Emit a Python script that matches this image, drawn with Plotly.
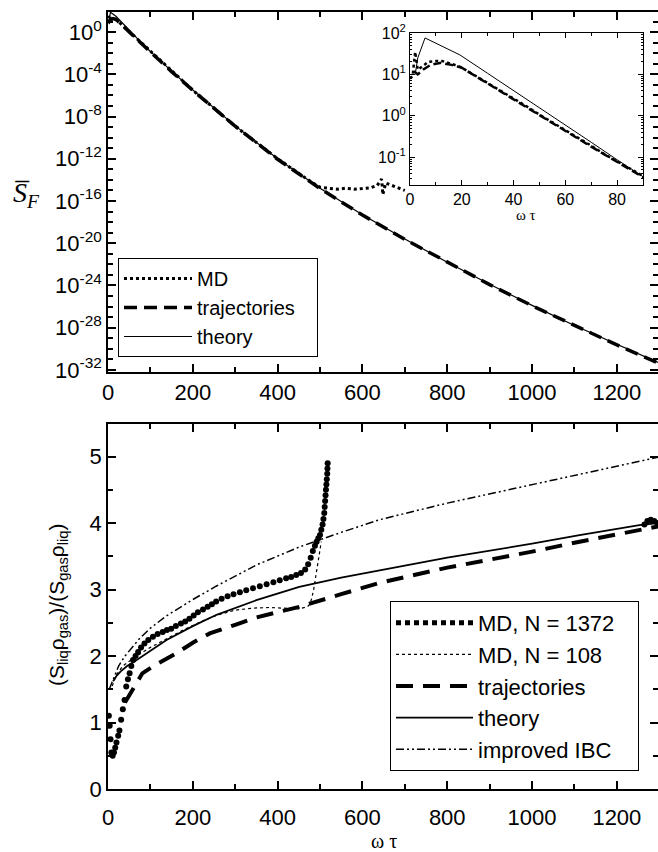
import plotly.graph_objects as go

W, H = 658, 852

# ---------------- top panel data (omega*tau, S_F) ----------------
theory_top_w = [2, 3, 5.8, 10, 15, 19.3, 30, 40, 50, 60, 70, 80, 90, 150, 200, 300, 400, 500,
                600, 700, 800, 900, 1000, 1100, 1200, 1297]
theory_top = [10, 25, 76, 56, 40, 29.5, 10.6, 4.1, 1.55, 0.6, 0.23, 0.087, 0.034, 2e-4, 3.2e-6,
              1.3e-9, 1e-12, 1.6e-15, 5e-18, 2.5e-20, 1.6e-22, 1.3e-24, 1.3e-26, 1.6e-28, 2.5e-30,
              5e-32]

traj_top_w = [1.5, 3, 5, 8, 12, 16, 20, 25, 30, 35, 40, 45, 50, 55, 60, 65, 70, 75, 80, 85, 90,
              150, 200, 300, 400, 500, 600, 700, 800, 900, 1000, 1100, 1200, 1297]
traj_top = [12, 10, 13, 17, 19, 17, 14.5, 9.5, 6, 3.9, 2.5, 1.6, 1.02, 0.66, 0.43, 0.28, 0.18, 0.115,
            0.074, 0.048, 0.031, 1.8e-4, 3e-6, 1.2e-9, 9e-13, 1.5e-15, 4.6e-18, 2.3e-20, 1.5e-22,
            1.2e-24, 1.2e-26, 1.5e-28, 2.3e-30, 4.5e-32]

md_top_w = [0, 1, 2, 3, 5, 7, 10, 12.4, 16, 19.6, 25, 30, 35, 40, 45, 50, 55, 60, 65, 70, 75, 80,
            85, 90, 150, 200, 300, 400, 480, 500, 520, 540, 560, 580, 600, 620, 635, 643, 645, 646,
            647, 648, 655, 670, 690, 700]
md_top = [8, 9, 35, 13, 16, 20, 21, 21, 18, 15, 9.5, 6.2, 4, 2.6, 1.7, 1.07, 0.7, 0.45, 0.29, 0.19,
          0.12, 0.078, 0.05, 0.032, 1.9e-4, 3.1e-6, 1.2e-9, 1e-12, 6e-15, 2e-15, 1.6e-15, 1.3e-15,
          1.6e-15, 1.3e-15, 1.5e-15, 1.8e-15, 3e-15, 8e-15, 1.2e-14, 5e-15, 1e-15, 4e-16, 5e-15,
          3e-15, 1.5e-15, 1e-15]

top_ytick_exp = [0, -4, -8, -12, -16, -20, -24, -28, -32]
inset_ytick_exp = [-1, 0, 1, 2]
x_ticks = [0, 200, 400, 600, 800, 1000, 1200]
inset_x_ticks = [0, 20, 40, 60, 80]

# ---------------- bottom panel data (omega*tau, ratio) ----------------
md1372_w = [2, 4, 6, 8, 11, 14, 17, 20, 24, 27, 31, 35, 39, 43, 47, 51, 55, 59, 65, 71, 78, 86, 95, 106,
            117, 129, 139, 149, 160, 172, 182, 192, 202, 212, 224, 235, 245, 255, 268, 282, 296, 311,
            326, 342, 358, 374, 390, 405, 420, 432, 444, 455, 465, 472, 478, 483, 488, 492, 496, 500,
            503, 506, 508, 510, 511, 512, 513, 514, 515, 516, 517, 517.5, 518,
            1265, 1272, 1280, 1288, 1295]
md1372 = [1.1, 0.95, 0.75, 0.55, 0.5, 0.55, 0.62, 0.7, 0.8, 0.88, 1.04, 1.2, 1.34, 1.54, 1.65, 1.74,
          1.85, 1.94, 2.0, 2.06, 2.13, 2.19, 2.24, 2.29, 2.33, 2.36, 2.39, 2.41, 2.45, 2.49, 2.52, 2.56,
          2.61, 2.66, 2.70, 2.74, 2.78, 2.82, 2.86, 2.9, 2.93, 2.96, 2.99, 3.02, 3.05, 3.08, 3.11, 3.14,
          3.17, 3.19, 3.22, 3.25, 3.3, 3.38, 3.48, 3.58, 3.66, 3.72, 3.77, 3.82, 3.9, 3.98, 4.06, 4.15,
          4.24, 4.33, 4.42, 4.5, 4.58, 4.66, 4.74, 4.82, 4.9,
          3.98, 4.03, 4.05, 4.03, 4.0]

md108_w = [10, 20, 35, 60, 100, 140, 180, 220, 260, 300, 340, 380, 420, 450, 470, 476, 480, 485, 490,
           495, 500, 503]
md108 = [1.55, 1.72, 1.85, 1.97, 2.13, 2.27, 2.4, 2.52, 2.62, 2.69, 2.72, 2.73, 2.72, 2.71, 2.74, 2.78,
         2.86, 3.0, 3.2, 3.4, 3.6, 3.72]

traj_w = [40, 58, 81, 110, 161, 200, 240, 300, 350, 400, 451, 550, 640, 800, 1000, 1112, 1223, 1297]
traj = [1.3, 1.49, 1.74, 1.86, 2.04, 2.2, 2.34, 2.47, 2.58, 2.66, 2.74, 2.93, 3.10, 3.33, 3.57, 3.72,
        3.86, 3.95]

theory_w = [12, 20, 30, 45, 58, 80, 100, 138, 200, 256, 350, 451, 550, 640, 800, 1000, 1112, 1253, 1297]
theory = [1.62, 1.7, 1.77, 1.85, 1.9, 1.99, 2.08, 2.24, 2.45, 2.62, 2.84, 3.04, 3.18, 3.29, 3.48, 3.69,
          3.82, 3.97, 4.0]

ibc_w = [3, 8, 15, 25, 40, 55, 74, 100, 137, 200, 255, 350, 451, 550, 640, 800, 1000, 1112, 1297]
ibc = [1.5, 1.58, 1.7, 1.85, 2.0, 2.12, 2.26, 2.42, 2.6, 2.85, 3.05, 3.37, 3.64, 3.86, 4.05, 4.3, 4.58,
       4.73, 4.99]

bottom_y_ticks = [0, 1, 2, 3, 4, 5]

SANS = "Liberation Sans, Arial, sans-serif"
SERIF = "Liberation Serif, Times New Roman, serif"
PAD = "\u00a0\u00a0\u00a0"  # trailing space inside the legend boxes


def px_x(p):
    return p / W


def px_y(p):
    return 1 - p / H


fig = go.Figure()

traj_dash = "13px,7px"
ibc_dash = "8px,3px,2px,3px,2px,3px"

# top panel traces
fig.add_trace(go.Scatter(x=md_top_w, y=md_top, mode="lines", name="MD",
                         line=dict(color="black", width=3, dash="dot"),
                         xaxis="x", yaxis="y", legend="legend"))
fig.add_trace(go.Scatter(x=traj_top_w, y=traj_top, mode="lines", name="trajectories" + PAD,
                         line=dict(color="black", width=3.5, dash=traj_dash),
                         xaxis="x", yaxis="y", legend="legend"))
fig.add_trace(go.Scatter(x=theory_top_w, y=theory_top, mode="lines", name="theory",
                         line=dict(color="black", width=1.2),
                         xaxis="x", yaxis="y", legend="legend"))

# inset traces (same series, zoomed)
fig.add_trace(go.Scatter(x=md_top_w, y=md_top, mode="lines", showlegend=False,
                         line=dict(color="black", width=2.5, dash="dot"), xaxis="x3", yaxis="y3"))
fig.add_trace(go.Scatter(x=traj_top_w, y=traj_top, mode="lines", showlegend=False,
                         line=dict(color="black", width=2.5, dash="8px,4px"), xaxis="x3", yaxis="y3"))
fig.add_trace(go.Scatter(x=theory_top_w, y=theory_top, mode="lines", showlegend=False,
                         line=dict(color="black", width=1), xaxis="x3", yaxis="y3"))

# bottom panel traces
fig.add_trace(go.Scatter(x=md1372_w, y=md1372, mode="markers", showlegend=False,
                         marker=dict(color="black", size=6),
                         xaxis="x2", yaxis="y2"))
fig.add_trace(go.Scatter(x=[None], y=[None], mode="lines", name="MD, N = 1372" + PAD,
                         line=dict(color="black", width=5, dash="5px,4px"),
                         xaxis="x2", yaxis="y2", legend="legend2"))
fig.add_trace(go.Scatter(x=md108_w, y=md108, mode="lines", name="MD, N = 108",
                         line=dict(color="black", width=1.2, dash="dot"),
                         xaxis="x2", yaxis="y2", legend="legend2"))
fig.add_trace(go.Scatter(x=traj_w, y=traj, mode="lines", name="trajectories",
                         line=dict(color="black", width=4, dash="17px,10px"),
                         xaxis="x2", yaxis="y2", legend="legend2"))
fig.add_trace(go.Scatter(x=theory_w, y=theory, mode="lines", name="theory",
                         line=dict(color="black", width=1.8),
                         xaxis="x2", yaxis="y2", legend="legend2"))
fig.add_trace(go.Scatter(x=ibc_w, y=ibc, mode="lines", name="improved IBC",
                         line=dict(color="black", width=1.5, dash=ibc_dash),
                         xaxis="x2", yaxis="y2", legend="legend2"))

axis_common = dict(showline=True, linecolor="black", linewidth=1.5, mirror="ticks",
                   ticks="inside", tickcolor="black", tickwidth=1.5, showgrid=False,
                   zeroline=False, automargin=False,
                   tickfont=dict(family=SANS, size=22, color="black"))
inset_common = dict(showline=True, linecolor="black", linewidth=1, mirror="ticks",
                    ticks="inside", tickcolor="black", tickwidth=1, showgrid=False,
                    zeroline=False, automargin=False,
                    tickfont=dict(family=SANS, size=16, color="black"))

x_dom = [px_x(108), 1.0]

fig.update_layout(
    template="none",
    width=W, height=H, margin=dict(l=0, r=0, t=0, b=0, pad=0), autosize=False,
    paper_bgcolor="white", plot_bgcolor="white",
    font=dict(family=SANS, color="black"),
    xaxis=dict(domain=x_dom, range=[0, 1297], anchor="y", tickvals=x_ticks, ticklen=8,
               minor=dict(dtick=100, tick0=0, ticks="inside", ticklen=5, tickcolor="black",
                          tickwidth=1.5),
               **axis_common),
    yaxis=dict(domain=[px_y(372), px_y(12)], type="log", range=[-32.2, 1.9], anchor="x",
               tickvals=[10.0 ** e for e in top_ytick_exp],
               ticktext=["10<sup>%d</sup>" % e for e in top_ytick_exp], ticklen=8,
               minor=dict(tickvals=[10.0 ** e for e in range(-32, 2)], ticks="inside", ticklen=5,
                          tickcolor="black", tickwidth=1.5),
               **axis_common),
    xaxis2=dict(domain=x_dom, range=[0, 1297], anchor="y2", tickvals=x_ticks, ticklen=8,
                ticklabelstandoff=8,
                minor=dict(dtick=100, tick0=0, ticks="inside", ticklen=5, tickcolor="black",
                           tickwidth=1.5),
                **axis_common),
    yaxis2=dict(domain=[px_y(789), px_y(424)], range=[0, 5.49], anchor="x2",
                tickvals=bottom_y_ticks, ticklen=8,
                minor=dict(dtick=0.5, tick0=0, ticks="inside", ticklen=5, tickcolor="black",
                           tickwidth=1.5),
                **axis_common),
    xaxis3=dict(domain=[px_x(410), px_x(643)], range=[0, 90], anchor="y3", tickvals=inset_x_ticks,
                ticklen=5,
                minor=dict(dtick=10, tick0=0, ticks="inside", ticklen=3, tickcolor="black"),
                **inset_common),
    yaxis3=dict(domain=[px_y(185), px_y(33)], type="log", range=[-1.67, 2], anchor="x3",
                tickvals=[10.0 ** e for e in inset_ytick_exp],
                ticktext=["10<sup>%d</sup>" % e for e in inset_ytick_exp], ticklen=5,
                minor=dict(tickvals=[m * 10.0 ** e for e in range(-2, 2) for m in range(2, 10)],
                           ticks="inside", ticklen=2, tickcolor="black"),
                **inset_common),
    legend=dict(x=px_x(118), y=px_y(258), xanchor="left", yanchor="top", bgcolor="white",
                bordercolor="black", borderwidth=1, font=dict(family=SANS, size=20, color="black"),
                itemwidth=68, tracegroupgap=0),
    legend2=dict(x=px_x(390), y=px_y(601), xanchor="left", yanchor="top", bgcolor="white",
                 bordercolor="black", borderwidth=1, font=dict(family=SANS, size=22, color="black"),
                 itemwidth=77, tracegroupgap=0),
    annotations=[
        dict(text="<i>S\u0305</i><sub><i>F</i></sub>", x=px_x(26), y=px_y(194), xref="paper",
             yref="paper", xanchor="center", yanchor="middle", showarrow=False,
             font=dict(family=SERIF, size=28, color="black")),
        dict(text="\u03c9 \u03c4", x=px_x(526), y=px_y(215), xref="paper", yref="paper",
             xanchor="center", yanchor="middle", showarrow=False,
             font=dict(family=SERIF, size=15, color="black")),
        dict(text="\u03c9 \u03c4", x=px_x(384), y=px_y(841), xref="paper", yref="paper",
             xanchor="center", yanchor="middle", showarrow=False,
             font=dict(family=SERIF, size=20, color="black")),
        dict(text="(S<sub>liq</sub>\u03c1<sub>gas</sub>)/(S<sub>gas</sub>\u03c1<sub>liq</sub>)",
             x=px_x(58), y=px_y(605), xref="paper", yref="paper", textangle=-90,
             xanchor="center", yanchor="middle", showarrow=False,
             font=dict(family=SANS, size=21, color="black")),
    ],
)

fig.write_html("out.html")
